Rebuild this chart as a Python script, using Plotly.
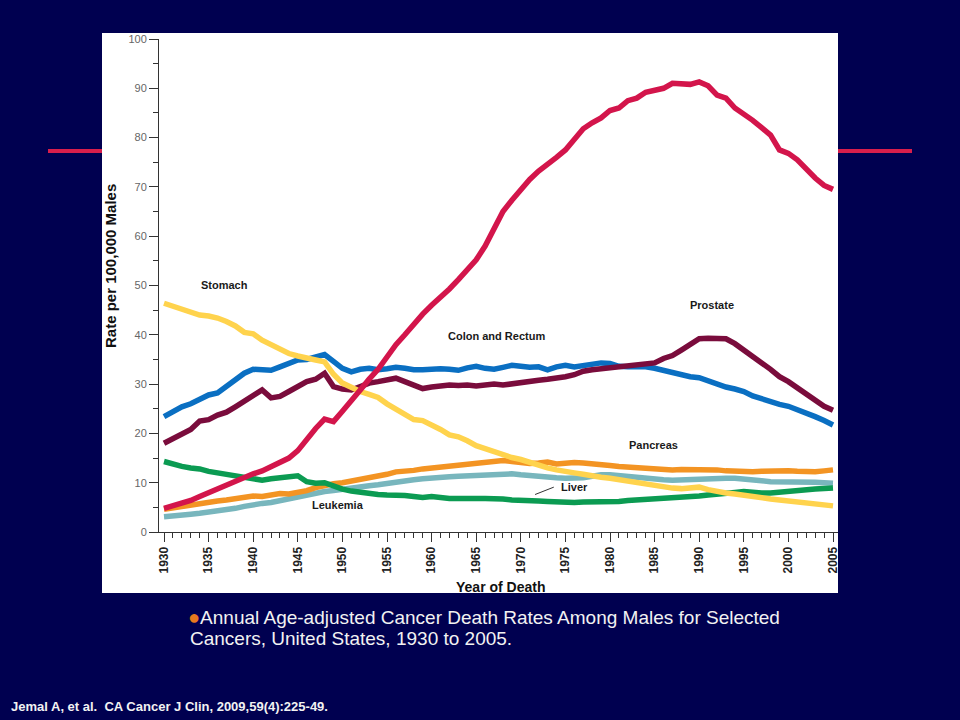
import plotly.graph_objects as go

years = list(range(1930, 2006))

lung = [4.8, 5.3, 5.8, 6.4, 7.2, 8.0, 8.7, 9.4, 10.2, 11.0,
        11.8, 12.4, 13.2, 14.0, 15.0, 16.5, 18.8, 21.0, 22.9, 22.4,
        24.5, 26.5, 28.8, 31.0, 33.0, 35.5, 38.0, 40.0, 42.2, 44.2,
        46.0, 47.6, 49.3, 51.2, 53.2, 55.2, 58.0, 61.8, 65.0, 67.3,
        69.5, 71.5, 73.2, 74.5, 76.0, 77.5, 79.5, 81.8, 83.0, 84.0,
        85.5, 86.0, 87.5, 88.0, 89.2, 89.5, 90.0, 91.0, 90.8, 90.8,
        91.3, 90.5, 88.6, 88.0, 86.0, 84.8, 83.5, 82.0, 80.5, 77.5,
        76.8, 75.5, 73.5, 71.8, 70.3, 69.5]

stomach = [46.4, 45.8, 45.0, 44.4, 44.0, 43.8, 43.4, 42.7, 41.8, 40.5,
           40.2, 38.9, 38.0, 37.0, 36.2, 35.7, 35.2, 34.9, 34.5, 32.0,
           30.2, 29.2, 28.5, 27.9, 27.3, 26.0, 25.0, 24.0, 22.8, 22.6,
           21.8, 20.8, 19.7, 19.3, 18.5, 17.5, 16.9, 16.2, 15.7, 15.1,
           14.7, 14.1, 13.5, 13.0, 12.6, 12.2, 12.0, 11.7, 11.3, 11.1,
           10.9, 10.6, 10.3, 10.0, 9.7, 9.5, 9.2, 8.9, 8.8, 8.9,
           9.1, 8.6, 8.2, 7.9, 7.7, 7.4, 7.1, 6.9, 6.7, 6.5,
           6.3, 6.1, 5.9, 5.7, 5.5, 5.3]

colon = [23.4, 24.5, 25.4, 26.0, 27.0, 27.8, 28.2, 29.5, 31.0, 32.2,
         33.0, 32.8, 32.8, 33.5, 34.3, 34.9, 35.0, 35.5, 36.0, 34.6,
         33.2, 32.5, 33.0, 33.2, 32.9, 33.1, 33.4, 33.2, 32.9, 32.9,
         33.1, 33.1, 33.0, 32.8, 33.3, 33.6, 33.2, 33.0, 33.4, 33.8,
         33.6, 33.4, 33.5, 32.9, 33.5, 33.8, 33.5, 33.8, 34.0, 34.3,
         34.2, 33.6, 33.5, 33.6, 33.5, 33.2, 32.8, 32.2, 31.8, 31.5,
         31.3, 30.6, 29.9, 29.4, 29.0, 28.5, 27.6, 27.0, 26.4, 25.9,
         25.5, 24.8, 24.3, 23.4, 22.6, 21.7]

prostate = [18.0, 18.9, 19.9, 20.8, 22.5, 22.8, 23.7, 24.3, 25.4, 26.6,
            27.6, 28.8, 27.2, 27.5, 28.5, 29.6, 30.5, 31.0, 32.2, 29.5,
            29.0, 28.8, 29.5, 30.2, 30.5, 30.8, 31.2, 30.5, 29.7, 29.1,
            29.4, 29.7, 29.8, 29.7, 29.8, 29.6, 29.8, 30.0, 29.8, 30.1,
            30.3, 30.5, 30.8, 31.0, 31.2, 31.5, 31.9, 32.6, 32.9, 33.1,
            33.4, 33.6, 33.8, 34.0, 34.2, 34.3, 35.2, 35.8, 36.9, 38.0,
            39.2, 39.3, 39.3, 39.2, 38.2, 37.0, 35.8, 34.3, 33.0, 31.5,
            30.5, 29.2, 28.0, 26.5, 25.5, 24.7]

leukemia = [14.3, 13.7, 13.3, 13.0, 12.8, 12.3, 12.0, 11.7, 11.4, 11.1,
            10.6, 10.5, 10.8, 11.0, 11.4, 11.4, 10.2, 9.9, 10.0, 9.2,
            8.7, 8.3, 8.0, 7.8, 7.6, 7.5, 7.5, 7.4, 7.2, 7.0,
            7.2, 6.9, 6.8, 6.8, 6.9, 6.8, 6.8, 6.8, 6.7, 6.5,
            6.5, 6.4, 6.3, 6.2, 6.1, 6.1, 6.0, 6.1, 6.1, 6.1,
            6.0, 6.2, 6.4, 6.5, 6.5, 6.6, 6.7, 6.8, 7.0, 7.1,
            7.3, 7.5, 7.6, 7.8, 8.0, 8.2, 8.0, 7.9, 7.9, 8.1,
            8.3, 8.5, 8.6, 8.7, 8.8, 8.9]

pancreas = [4.6, 4.9, 5.2, 5.6, 5.8, 6.0, 6.3, 6.5, 6.8, 7.1,
            7.3, 7.2, 7.6, 7.8, 7.7, 8.0, 8.4, 9.0, 9.5, 9.8,
            10.0, 10.3, 10.6, 11.0, 11.4, 11.7, 12.2, 12.3, 12.5, 12.8,
            13.0, 13.1, 13.3, 13.5, 13.6, 14.0, 14.2, 14.4, 14.5, 14.3,
            14.0, 13.9, 14.0, 14.2, 13.8, 14.0, 14.1, 14.0, 13.9, 13.7,
            13.5, 13.3, 13.2, 13.0, 12.9, 12.8, 12.6, 12.6, 12.7, 12.7,
            12.7, 12.6, 12.6, 12.4, 12.3, 12.2, 12.2, 12.3, 12.4, 12.5,
            12.4, 12.3, 12.2, 12.2, 12.4, 12.6]

liver = [3.1, 3.2, 3.4, 3.6, 3.8, 4.0, 4.2, 4.5, 4.8, 5.2,
         5.6, 5.8, 6.0, 6.4, 6.7, 7.0, 7.4, 7.8, 8.2, 8.4,
         8.7, 8.9, 9.1, 9.4, 9.6, 9.9, 10.2, 10.4, 10.6, 10.8,
         11.0, 11.1, 11.2, 11.3, 11.4, 11.5, 11.6, 11.7, 11.8, 11.8,
         11.6, 11.4, 11.2, 11.1, 11.0, 10.9, 10.9, 11.0, 11.3, 11.6,
         11.6, 11.4, 11.2, 11.0, 10.9, 10.7, 10.6, 10.5, 10.6, 10.7,
         10.8, 10.9, 10.9, 10.9, 10.9, 10.8, 10.6, 10.4, 10.2, 10.2,
         10.3, 10.3, 10.2, 10.1, 10.0, 9.9]

series_names = ["Liver", "Pancreas", "Leukemia", "Colon and Rectum",
                "Prostate", "Stomach", "Lung and Bronchus"]
series_values = [liver, pancreas, leukemia, colon, prostate, stomach, lung]
series_colors = ["#78b6bd", "#f39423", "#0b9b52", "#0a6fc2",
                 "#7a0c3c", "#ffd34d", "#d3154b"]

label_texts = ["Lung and Bronchus", "Stomach", "Colon and Rectum", "Prostate",
               "Pancreas", "Liver", "Leukemia"]
label_x = [1989.0, 1936.8, 1967.3, 1991.4, 1984.9, 1976.0, 1949.5]
label_y = [100.3, 50.1, 39.8, 46.0, 17.6, 9.1, 5.5]

x_tick_vals = list(range(1930, 2006, 5))
y_tick_vals = list(range(0, 101, 10))

caption_lines = ["Annual Age-adjusted Cancer Death Rates Among Males for Selected",
                 "Cancers, United States, 1930 to 2005."]
source_text = "Jemal A, et al.  CA Cancer J Clin, 2009,59(4):225-49."

# pixel geometry of the plot area
PL, PR, PT, PB = 159, 838, 39, 532
W, H = 960, 720


def px_x(p):
    return (p - PL) / (PR - PL)


def px_y(p):
    return (PB - p) / (PB - PT)


FONT = "Liberation Sans, Arial, sans-serif"

fig = go.Figure()

for name, vals, col in zip(series_names, series_values, series_colors):
    fig.add_trace(go.Scatter(x=years, y=vals, mode="lines", name=name,
                             line=dict(color=col, width=5.5),
                             showlegend=False, hoverinfo="x+y+name"))

# leader line for Liver label
fig.add_trace(go.Scatter(x=[1971.6, 1973.7], y=[7.6, 9.1], mode="lines",
                         line=dict(color="#333333", width=1),
                         showlegend=False, hoverinfo="skip"))

annotations = []
for t, xv, yv in zip(label_texts, label_x, label_y):
    annotations.append(dict(x=xv, y=yv, xref="x", yref="y", text="<b>" + t + "</b>",
                            showarrow=False, xanchor="center", yanchor="middle",
                            font=dict(family=FONT, size=11, color="#1a1a1a")))

annotations.append(dict(x=px_x(110), y=px_y(266), xref="paper", yref="paper",
                        text="<b>Rate per 100,000 Males</b>", textangle=-90,
                        showarrow=False, xanchor="center", yanchor="middle",
                        font=dict(family=FONT, size=15, color="#111111")))
annotations.append(dict(x=px_x(500), y=px_y(587), xref="paper", yref="paper",
                        text="<b>Year of Death</b>", showarrow=False,
                        xanchor="center", yanchor="middle",
                        font=dict(family=FONT, size=14, color="#111111")))
annotations.append(dict(x=px_x(186), y=px_y(617), xref="paper", yref="paper",
                        xanchor="left", yanchor="middle", align="left",
                        text="<span style='color:#e8791e;font-size:20px'>●</span>" + caption_lines[0],
                        showarrow=False,
                        font=dict(family=FONT, size=19, color="#f2f2f2")))
annotations.append(dict(x=px_x(188), y=px_y(638), xref="paper", yref="paper",
                        xanchor="left", yanchor="middle", align="left",
                        text=caption_lines[1],
                        showarrow=False,
                        font=dict(family=FONT, size=19, color="#f2f2f2")))
annotations.append(dict(x=px_x(9), y=px_y(706), xref="paper", yref="paper",
                        xanchor="left", yanchor="middle",
                        text="<b>" + source_text + "</b>",
                        showarrow=False,
                        font=dict(family=FONT, size=13, color="#f2f2f2")))

shapes = [
    dict(type="line", xref="paper", yref="paper", layer="below",
         x0=px_x(48), x1=px_x(912), y0=px_y(151), y1=px_y(151),
         line=dict(color="#d81e4c", width=4)),
    dict(type="rect", xref="paper", yref="paper", layer="below",
         x0=px_x(102), x1=px_x(838), y0=px_y(593), y1=px_y(33),
         fillcolor="white", line=dict(width=0)),
]

fig.update_layout(
    width=W, height=H,
    margin=dict(l=PL, r=W - PR, t=PT, b=H - PB, pad=0),
    paper_bgcolor="#000050",
    plot_bgcolor="rgba(0,0,0,0)",
    annotations=annotations,
    shapes=shapes,
    xaxis=dict(range=[1930 - 5 / 8.92, 2005 + 5 / 8.92],
               tickmode="array", tickvals=x_tick_vals,
               ticktext=["<b>%d</b>" % v for v in x_tick_vals],
               tickangle=-90, ticks="outside", ticklen=9, tickwidth=1,
               tickcolor="#333333",
               tickfont=dict(family=FONT, size=12, color="#222222"),
               minor=dict(dtick=1, tick0=1930, ticks="outside", ticklen=5,
                          tickcolor="#333333", tickwidth=1, showgrid=False),
               showline=True, linecolor="#333333", linewidth=1,
               showgrid=False, zeroline=False, fixedrange=True),
    yaxis=dict(range=[0, 100], tickmode="array", tickvals=y_tick_vals,
               ticks="outside", ticklen=9, tickwidth=1, tickcolor="#333333",
               tickfont=dict(family=FONT, size=11, color="#666666"),
               minor=dict(dtick=5, tick0=0, ticks="outside", ticklen=5,
                          tickcolor="#333333", tickwidth=1, showgrid=False),
               showline=True, linecolor="#333333", linewidth=1,
               showgrid=False, zeroline=False, fixedrange=True),
)

fig.write_html("out.html", config={"displayModeBar": False},
               post_script="document.body.style.margin='0';document.body.style.background='#000050';document.body.style.overflow='hidden';")
